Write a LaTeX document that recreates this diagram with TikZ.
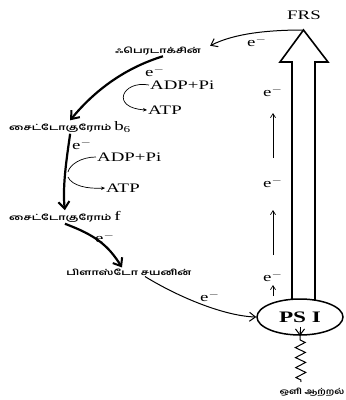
\documentclass[tikz,border=0pt]{standalone}
\usepackage{fontspec}
\setmainfont{Liberation Serif}
\newfontfamily\tamilfont[Script=Tamil]{Hind Madurai}
\usetikzlibrary{arrows.meta,decorations.pathmorphing,shapes.geometric}

% horizontally widened text
\newcommand\widetxt[1]{\scalebox{1.45}[1]{#1}}

\begin{document}
\begin{tikzpicture}[x=1pt,y=-1pt,
  lbl/.style={inner sep=1pt, font=\fontsize{13}{13}\selectfont},
  ta/.style={inner sep=1pt, font=\fontsize{8}{9}\selectfont\tamilfont\bfseries},
  heavyarrow/.style={line width=2.2pt, -{Straight Barb[length=7pt,width=11pt,line width=2pt]}},
  lightarrow/.style={line width=1pt, -{Straight Barb[length=6pt,width=9pt]}},
  smallarrow/.style={line width=0.7pt, -{Straight Barb[length=4pt,width=5pt]}},
  sidearrow/.style={line width=0.7pt, -{Stealth[length=4pt,width=3.5pt]}},
]
\useasboundingbox (0,0) rectangle (346,400);

% electron carriers
\node[lbl] (frs) at (304,15) {\widetxt{FRS}};
\node[ta] (fd) at (158,51) {\widetxt{ஃபெரடாக்சின்}};
\node[ta, anchor=west] (b6) at (8,127) {\widetxt{சைட்டோகுரோம்\ {\rmfamily\mdseries\fontsize{13}{13}\selectfont b\textsubscript{6}}}};
\node[ta, anchor=west] (cf) at (8,217) {\widetxt{சைட்டோகுரோம்\ {\rmfamily\mdseries\fontsize{13}{13}\selectfont f}}};
\node[ta] (pc) at (129,272) {\widetxt{பிளாஸ்டோ சயனின்}};
\node[draw, ellipse, line width=1.5pt, minimum width=86pt, minimum height=36pt,
      inner sep=0pt, font=\fontsize{16}{16}\selectfont\bfseries] (ps) at (300,317) {\widetxt{PS I}};
\node[ta] (light) at (312,392) {\scalebox{1.25}[1]{ஒளி ஆற்றல்}};

% phosphorylation labels
\node[lbl, anchor=west] (adp1) at (149,85) {\widetxt{ADP+Pi}};
\node[lbl, anchor=west] (atp1) at (147,110) {\widetxt{ATP}};
\node[lbl, anchor=west] (adp2) at (96,157) {\widetxt{ADP+Pi}};
\node[lbl, anchor=west] (atp2) at (105,188) {\widetxt{ATP}};

% electron labels
\node[lbl] (e1) at (257,42) {\widetxt{e$^-$}};
\node[lbl] (e2) at (155,72) {\widetxt{e$^-$}};
\node[lbl] (e3) at (82,145) {\widetxt{e$^-$}};
\node[lbl] (e4) at (105,238) {\widetxt{e$^-$}};
\node[lbl] (e5) at (210,297) {\widetxt{e$^-$}};
\node[lbl] (e6) at (273,92) {\widetxt{e$^-$}};
\node[lbl] (e7) at (273,183) {\widetxt{e$^-$}};
\node[lbl] (e8) at (273,277) {\widetxt{e$^-$}};

% hollow excitation arrow from PS I up to FRS
\coordinate (frstip) at (303.5,30);
\draw[line width=1.6pt, line join=miter]
  (292,299.5) -- (292,62) -- (280,62) -- (frstip) -- (328,62) -- (315,62) -- (315,300);

% electron flow
\draw[lightarrow] (frstip) .. controls (270,30) and (235,33) .. ([xshift=8pt]fd.north east);
\draw[heavyarrow] ([xshift=5pt]fd.south) .. controls (125,68) and (95,90) .. (b6.north);
\draw[heavyarrow] (b6.south) .. controls (68,150) and (62,185) .. (cf.north);
\draw[heavyarrow] (cf.south) .. controls (95,235) and (108,245) .. ([xshift=-7pt]pc.north);
\draw[lightarrow] ([xshift=16pt]pc.south) .. controls (180,298) and (225,316) .. (ps.west);

% ATP formation side paths
\draw[sidearrow] (adp1.west) .. controls (122,80) and (110,108) .. (atp1.west);
\coordinate (j2) at (68,172);
\draw[line width=0.7pt] (adp2.west) .. controls (82,157) and (70,164) .. (j2);
\draw[sidearrow] (68,177) .. controls (72,186) and (88,189) .. (atp2.west);

% small upward electron arrows beside the shaft
\coordinate (u1) at (273,158); \coordinate (v1) at (273,113);
\coordinate (u2) at (273,255); \coordinate (v2) at (273,210);
\coordinate (u3) at (273,296); \coordinate (v3) at (273,285);
\draw[smallarrow] (u1) -- (v1);
\draw[smallarrow] (u2) -- (v2);
\draw[smallarrow] (u3) -- (v3);

% light energy
\coordinate (src) at (301,382);
\draw[line width=1pt, decorate,
      decoration={zigzag, segment length=10pt, amplitude=5pt, pre length=2pt, post length=6pt}]
  (src) -- ([yshift=5pt]ps.south);
\draw[lightarrow] ([yshift=9pt]ps.south) -- (ps.south);
\end{tikzpicture}
\end{document}
